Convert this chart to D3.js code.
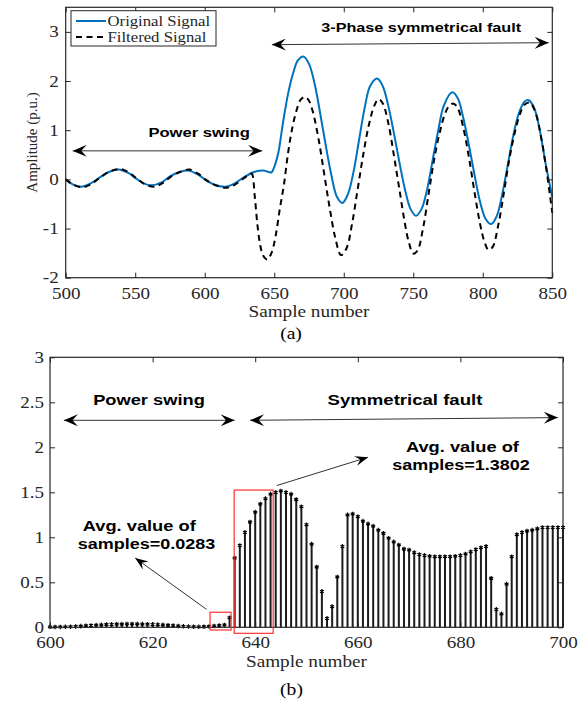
<!DOCTYPE html>
<html>
<head>
<meta charset="utf-8">
<script src="https://cdn.jsdelivr.net/npm/d3@7"></script>
<style>
  body { margin: 0; background: #fff; }
  text { font-family: "Liberation Serif", "Times New Roman", serif; }
  .bold { font-family: "Liberation Sans", Arial, sans-serif; font-weight: bold; }
</style>
</head>
<body>
<div id="chart"></div>
<script>
// ---- data ----
// (a) original signal
var origSample = [500,505,511,518,524,531,538,545,550,556,562,569,575,582,588,595,601,608,615,621,627,633,638,642,646,648,650,653,656,660,664,667,671,675,679,683,687,691,695,699,703,707,711,715,719,724,728,732,736,740,744,748,752,756,760,764,768,772,778,782,786,790,794,798,802,806,810,814,818,822,826,830,833,837,841,845,850];
var origAmp    = [0,-0.10,-0.15,-0.08,0.03,0.15,0.20,0.13,0.03,-0.08,-0.12,-0.06,0.06,0.15,0.18,0.10,-0.02,-0.12,-0.15,-0.09,0.02,0.12,0.17,0.18,0.15,0.14,0.25,0.55,1.10,1.75,2.20,2.42,2.50,2.35,1.95,1.35,0.70,0.10,-0.35,-0.48,-0.30,0.15,0.80,1.45,1.90,2.05,1.90,1.50,0.95,0.35,-0.20,-0.60,-0.74,-0.60,-0.20,0.40,1.00,1.50,1.77,1.65,1.25,0.70,0.10,-0.45,-0.80,-0.91,-0.75,-0.30,0.30,0.90,1.35,1.58,1.61,1.45,1.00,0.35,-0.37];
// (a) filtered signal
var filtSample = [500,505,512,518,524,531,539,546,551,557,564,570,576,583,589,596,602,609,616,622,628,633,634,636,638,640,642,645,648,651,654,657,660,663,666,669,672,675,678,682,686,690,694,698,702,706,710,714,718,722,725,728,732,736,740,744,747,750,753,757,761,765,769,773,776,779,782,786,790,794,798,801,804,807,811,815,819,823,827,830,834,838,842,846,850];
var filtAmp    = [0,-0.10,-0.16,-0.10,0.02,0.15,0.21,0.13,0.02,-0.10,-0.15,-0.07,0.06,0.16,0.20,0.10,-0.03,-0.13,-0.17,-0.10,0.02,0.12,0.11,-0.35,-0.95,-1.35,-1.55,-1.63,-1.50,-1.15,-0.60,-0.10,0.55,1.05,1.40,1.62,1.68,1.60,1.35,0.80,0.10,-0.60,-1.20,-1.54,-1.40,-0.90,-0.20,0.50,1.10,1.50,1.63,1.55,1.15,0.50,-0.20,-0.90,-1.30,-1.51,-1.45,-1.00,-0.30,0.40,0.95,1.35,1.50,1.54,1.45,1.05,0.45,-0.25,-0.90,-1.25,-1.43,-1.38,-0.95,-0.30,0.40,0.95,1.35,1.52,1.56,1.35,0.85,0.15,-0.68];
// (b) stem values, samples 600..700
var stemStart = 600;
var stemValues = [0.005,0.004,0.004,0.005,0.007,0.010,0.013,0.017,0.021,0.025,
  0.028,0.031,0.033,0.035,0.036,0.037,0.037,0.037,0.036,0.035,
  0.033,0.030,0.027,0.023,0.019,0.015,0.011,0.008,0.006,0.005,
  0.006,0.009,0.015,0.020,0.026,0.107,0.77,0.91,1.055,1.17,
  1.28,1.37,1.43,1.48,1.50,1.515,1.50,1.48,1.42,1.34,
  1.14,0.925,0.67,0.40,0.10,0.23,0.56,0.90,1.25,1.26,
  1.23,1.18,1.15,1.125,1.08,1.045,0.99,0.95,0.915,0.87,
  0.86,0.83,0.81,0.80,0.79,0.785,0.785,0.785,0.785,0.79,
  0.80,0.815,0.84,0.865,0.885,0.90,0.545,0.20,0.15,0.48,
  0.785,1.03,1.055,1.07,1.08,1.095,1.11,1.11,1.11,1.11,1.11];
// ticks
var topXTicks = [500,550,600,650,700,750,800,850];
var topYTicks = [-2,-1,0,1,2,3];
var botXTicks = [600,620,640,660,680,700];
var botYTicks = [0,0.5,1,1.5,2,2.5,3];

// ---- setup ----
var width = 583, height = 702;
var svg = d3.select("#chart").append("svg").attr("width", width).attr("height", height);
var axisCol = "#262626";
var serif = '"Liberation Serif", "Times New Roman", serif';

// stretch glyphs horizontally, the figure looks widened
function widen(sel, k) {
  sel.each(function () {
    var w = this.getComputedTextLength();
    d3.select(this).attr("textLength", w * k).attr("lengthAdjust", "spacingAndGlyphs");
  });
}

var defs = svg.append("defs");
function arrowMarker(id, len, half) {
  defs.append("marker").attr("id", id)
    .attr("viewBox", (-len) + " " + (-half) + " " + len + " " + (2 * half))
    .attr("refX", 0).attr("refY", 0)
    .attr("markerUnits", "userSpaceOnUse")
    .attr("markerWidth", len).attr("markerHeight", 2 * half)
    .attr("orient", "auto-start-reverse")
    .append("path")
    .attr("d", "M0,0 L" + (-len) + "," + (-half) + " L" + (-len * 0.62) + ",0 L" + (-len) + "," + half + " Z")
    .attr("fill", "#000");
}
arrowMarker("ahBig", 14, 6);
arrowMarker("ahSmall", 13, 5);

function boxAxes(g, x, y, xt, yt, box, ypad) {
  g.append("g").attr("transform", "translate(0," + box.b + ")")
    .call(d3.axisBottom(x).tickValues(xt).tickSize(-5).tickFormat(function (d) { return String(d); }))
    .call(function (a) { a.select(".domain").remove(); a.selectAll("line").attr("stroke", axisCol); })
    .selectAll("text").attr("y", 21).attr("dy", null)
    .attr("fill", axisCol).style("font-family", serif).style("font-size", "17px").call(widen, 1.12);
  g.append("g").attr("transform", "translate(" + box.l + ",0)")
    .call(d3.axisLeft(y).tickValues(yt).tickSize(-5).tickPadding(ypad).tickFormat(function (d) { return String(d); }))
    .call(function (a) { a.select(".domain").remove(); a.selectAll("line").attr("stroke", axisCol); })
    .selectAll("text").attr("dy", "0.3em")
    .attr("fill", axisCol).style("font-family", serif).style("font-size", "17px").call(widen, 1.12);
  g.append("g").attr("transform", "translate(0," + box.t + ")")
    .call(d3.axisTop(x).tickValues(xt).tickSize(-5).tickFormat(""))
    .call(function (a) { a.select(".domain").remove(); a.selectAll("line").attr("stroke", axisCol); });
  g.append("g").attr("transform", "translate(" + box.r + ",0)")
    .call(d3.axisRight(y).tickValues(yt).tickSize(-5).tickFormat(""))
    .call(function (a) { a.select(".domain").remove(); a.selectAll("line").attr("stroke", axisCol); });
  g.append("rect").attr("x", box.l).attr("y", box.t)
    .attr("width", box.r - box.l).attr("height", box.b - box.t)
    .attr("fill", "none").attr("stroke", axisCol).attr("stroke-width", 1.2);
}

// ---- (a) ----
var boxA = {l: 65.7, r: 552.3, t: 7.3, b: 277.7};
var xa = d3.scaleLinear().domain([500, 850]).range([boxA.l, boxA.r]);
var ya = d3.scaleLinear().domain([-2, 3.5]).range([boxA.b, boxA.t]);
var ga = svg.append("g");

var line = d3.line().curve(d3.curveCatmullRom.alpha(0.5));
ga.append("path")
  .attr("d", line(origSample.map(function (s, i) { return [xa(s), ya(origAmp[i])]; })))
  .attr("fill", "none").attr("stroke", "#0072BD").attr("stroke-width", 2);
ga.append("path")
  .attr("d", line(filtSample.map(function (s, i) { return [xa(s), ya(filtAmp[i])]; })))
  .attr("fill", "none").attr("stroke", "#000").attr("stroke-width", 2)
  .attr("stroke-dasharray", "6,4.5");

boxAxes(ga, xa, ya, topXTicks, topYTicks, boxA, 7);

ga.append("text").attr("x", (boxA.l + boxA.r) / 2).attr("y", 317)
  .attr("text-anchor", "middle").attr("fill", axisCol).style("font-size", "16px")
  .text("Sample number").call(widen, 1.2);
ga.append("text").attr("transform", "translate(37," + ((boxA.t + boxA.b) / 2) + ") rotate(-90)")
  .attr("text-anchor", "middle").attr("fill", axisCol).style("font-size", "15px")
  .text("Amplitude (p.u.)");
ga.append("text").attr("x", 291).attr("y", 339).attr("text-anchor", "middle")
  .attr("fill", "#000").style("font-size", "17px").text("(a)").call(widen, 1.15);

// legend
var leg = ga.append("g");
leg.append("rect").attr("x", 71).attr("y", 10.7).attr("width", 145).attr("height", 35.3)
  .attr("fill", "#fff").attr("stroke", axisCol).attr("stroke-width", 1);
leg.append("line").attr("x1", 76).attr("x2", 106).attr("y1", 21).attr("y2", 21)
  .attr("stroke", "#0072BD").attr("stroke-width", 2);
leg.append("line").attr("x1", 76).attr("x2", 106).attr("y1", 37).attr("y2", 37)
  .attr("stroke", "#000").attr("stroke-width", 2).attr("stroke-dasharray", "6,4.5");
leg.append("text").attr("x", 107.5).attr("y", 26).attr("fill", axisCol)
  .style("font-size", "15.2px").text("Original Signal").call(widen, 1.1);
leg.append("text").attr("x", 107.5).attr("y", 41.7).attr("fill", axisCol)
  .style("font-size", "15.2px").text("Filtered Signal").call(widen, 1.1);

// annotations (a)
ga.append("line").attr("x1", xa(505)).attr("x2", xa(641.3))
  .attr("y1", ya(0.58)).attr("y2", ya(0.58))
  .attr("stroke", "#333").attr("stroke-width", 1)
  .attr("marker-start", "url(#ahBig)").attr("marker-end", "url(#ahBig)");
ga.append("text").attr("class", "bold").attr("x", xa(596)).attr("y", ya(0.86))
  .attr("text-anchor", "middle").style("font-size", "13.5px").text("Power swing").call(widen, 1.23);
ga.append("line").attr("x1", xa(648.3)).attr("x2", xa(847.4))
  .attr("y1", ya(2.74)).attr("y2", ya(2.78))
  .attr("stroke", "#333").attr("stroke-width", 1)
  .attr("marker-start", "url(#ahBig)").attr("marker-end", "url(#ahBig)");
ga.append("text").attr("class", "bold").attr("x", xa(755.7)).attr("y", ya(2.99))
  .attr("text-anchor", "middle").style("font-size", "13.5px").text("3-Phase symmetrical fault").call(widen, 1.2);

// ---- (b) ----
var boxB = {l: 50, r: 563, t: 357.3, b: 627.3};
var xb = d3.scaleLinear().domain([600, 700]).range([boxB.l, boxB.r]);
var yb = d3.scaleLinear().domain([0, 3]).range([boxB.b, boxB.t]);
var gb = svg.append("g");

var stems = stemValues.map(function (v, i) { return {n: stemStart + i, v: v}; });
gb.selectAll(".stem").data(stems).enter().append("line").attr("class", "stem")
  .attr("x1", function (d) { return xb(d.n); }).attr("x2", function (d) { return xb(d.n); })
  .attr("y1", yb(0)).attr("y2", function (d) { return yb(d.v); })
  .attr("stroke", "#1c1c1c").attr("stroke-width", 2);
gb.selectAll(".mk").data(stems).enter().append("path").attr("class", "mk")
  .attr("transform", function (d) { return "translate(" + xb(d.n) + "," + yb(d.v) + ")"; })
  .attr("d", d3.symbol().type(d3.symbolAsterisk).size(14))
  .attr("fill", "none").attr("stroke", "#000").attr("stroke-width", 1.2);

boxAxes(gb, xb, yb, botXTicks, botYTicks, boxB, 6);

gb.append("text").attr("x", (boxB.l + boxB.r) / 2).attr("y", 666.5)
  .attr("text-anchor", "middle").attr("fill", axisCol).style("font-size", "16px")
  .text("Sample number").call(widen, 1.2);
gb.append("text").attr("x", 291.5).attr("y", 695).attr("text-anchor", "middle")
  .attr("fill", "#000").style("font-size", "17px").text("(b)").call(widen, 1.15);

// red boxes
var redBoxes = [[631.2, 635.3, -0.03, 0.167], [635.9, 643.5, -0.067, 1.525]];
gb.selectAll(".rb").data(redBoxes).enter().append("rect").attr("class", "rb")
  .attr("x", function (d) { return xb(d[0]); }).attr("y", function (d) { return yb(d[3]); })
  .attr("width", function (d) { return xb(d[1]) - xb(d[0]); })
  .attr("height", function (d) { return yb(d[2]) - yb(d[3]); })
  .attr("fill", "none").attr("stroke", "#ff3030").attr("stroke-width", 1.2);

// annotations (b)
function dblArrow(n0, v0, n1, v1) {
  gb.append("line").attr("x1", xb(n0)).attr("x2", xb(n1)).attr("y1", yb(v0)).attr("y2", yb(v1))
    .attr("stroke", "#333").attr("stroke-width", 1)
    .attr("marker-start", "url(#ahBig)").attr("marker-end", "url(#ahBig)");
}
function oneArrow(n0, v0, n1, v1) {
  gb.append("line").attr("x1", xb(n0)).attr("x2", xb(n1)).attr("y1", yb(v0)).attr("y2", yb(v1))
    .attr("stroke", "#333").attr("stroke-width", 1)
    .attr("marker-end", "url(#ahSmall)");
}
function boldText(n, v, s, k) {
  gb.append("text").attr("class", "bold").attr("x", xb(n)).attr("y", yb(v))
    .attr("text-anchor", "middle").style("font-size", "14.5px").text(s).call(widen, k);
}
dblArrow(602.7, 2.30, 636, 2.30);
dblArrow(639, 2.30, 699, 2.33);
boldText(619.3, 2.47, "Power swing", 1.26);
boldText(669.2, 2.47, "Symmetrical fault", 1.28);
boldText(680.4, 1.95, "Avg. value of", 1.26);
boldText(680.1, 1.75, "samples=1.3802", 1.24);
boldText(617.4, 1.07, "Avg. value of", 1.26);
boldText(618.8, 0.87, "samples=0.0283", 1.24);
oneArrow(644.2, 1.575, 662, 1.89);
oneArrow(630.5, 0.20, 616.6, 0.77);
</script>
</body>
</html>
